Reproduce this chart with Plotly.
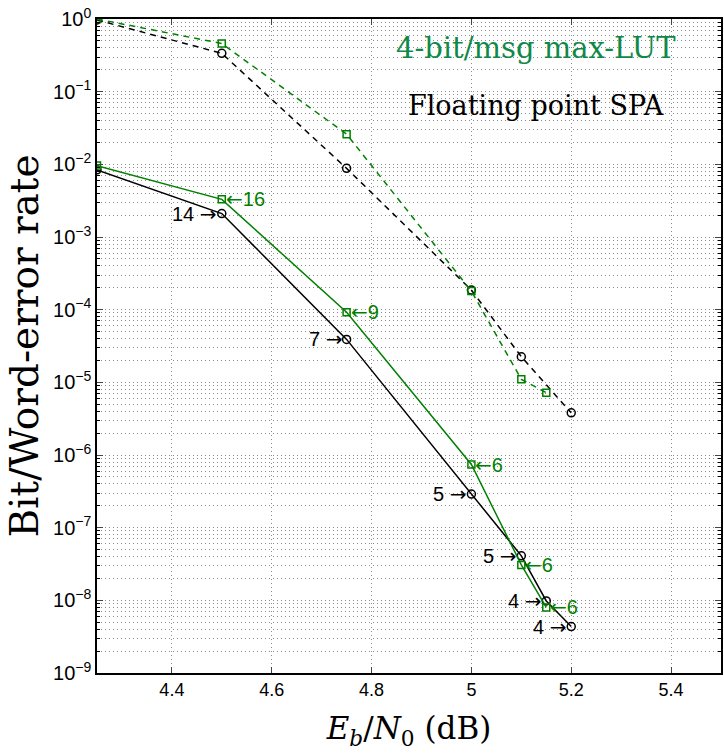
import math
import plotly.graph_objects as go

# Eb/N0 (dB)
snr_float = [4.25, 4.5, 4.75, 5.0, 5.1, 5.15, 5.2]
ber_float = [8.4e-3, 2.1e-3, 3.9e-5, 2.9e-7, 4.1e-8, 9.8e-9, 4.35e-9]
iter_float = ["", "14", "7", "5", "5", "4", "4"]

snr_lut = [4.25, 4.5, 4.75, 5.0, 5.1, 5.15]
ber_lut = [9.6e-3, 3.3e-3, 9.2e-5, 7.4e-7, 3.07e-8, 8.0e-9]
iter_lut = ["", "16", "9", "6", "6", "6"]

snr_wer_float = [4.25, 4.5, 4.75, 5.0, 5.1, 5.2]
wer_float = [0.97, 0.337, 8.8e-3, 1.86e-4, 2.25e-5, 3.8e-6]

snr_wer_lut = [4.25, 4.5, 4.75, 5.0, 5.1, 5.15]
wer_lut = [1.0, 0.46, 0.026, 1.8e-4, 1.1e-5, 7.2e-6]

ytick_vals = [10.0 ** (-k) for k in range(0, 10)]
ytick_text = ["10<sup>%s</sup>" % ("0" if k == 0 else "\u2212%d" % k) for k in range(0, 10)]
xtick_vals = [4.4, 4.6, 4.8, 5.0, 5.2, 5.4]
xtick_text = ["4.4", "4.6", "4.8", "5", "5.2", "5.4"]

GREEN = "rgb(0,128,0)"
BLACK = "black"

fig = go.Figure()
fig.add_trace(go.Scatter(x=snr_wer_float, y=wer_float, mode="lines+markers",
                         line=dict(color=BLACK, width=1.5, dash="6px,5px"),
                         marker=dict(symbol="circle-open", size=8, color=BLACK, line=dict(width=1.5))))
fig.add_trace(go.Scatter(x=snr_wer_lut, y=wer_lut, mode="lines+markers",
                         line=dict(color=GREEN, width=1.5, dash="6px,5px"),
                         marker=dict(symbol="square-open", size=7, color=GREEN, line=dict(width=1.5))))
fig.add_trace(go.Scatter(x=snr_float, y=ber_float, mode="lines+markers",
                         line=dict(color=BLACK, width=1.5),
                         marker=dict(symbol="circle-open", size=8, color=BLACK, line=dict(width=1.5))))
fig.add_trace(go.Scatter(x=snr_lut, y=ber_lut, mode="lines+markers",
                         line=dict(color=GREEN, width=1.5),
                         marker=dict(symbol="square-open", size=7, color=GREEN, line=dict(width=1.5))))

ARROW_R = "<span style='font-family:DejaVu Sans'>\u2192</span>"
ARROW_L = "<span style='font-family:DejaVu Sans'>\u2190</span>"
ann_font = dict(family="Liberation Sans, Arial, sans-serif", size=20)
for x, y, t in zip(snr_float, ber_float, iter_float):
    if t:
        fig.add_annotation(x=x, y=math.log10(y), text=t + " " + ARROW_R, showarrow=False,
                           xanchor="right", yanchor="middle", xshift=-3,
                           font=dict(color=BLACK, **ann_font))
for x, y, t in zip(snr_lut, ber_lut, iter_lut):
    if t:
        fig.add_annotation(x=x, y=math.log10(y), text=ARROW_L + t, showarrow=False,
                           xanchor="left", yanchor="middle", xshift=2,
                           font=dict(color=GREEN, **ann_font))

fig.add_annotation(x=0.931, y=0.955, xref="paper", yref="paper", text="4-bit/msg max-LUT",
                   showarrow=False, xanchor="right", yanchor="middle",
                   font=dict(family="DejaVu Serif, serif", size=29, color="rgb(16,137,72)"))
fig.add_annotation(x=0.912, y=0.868, xref="paper", yref="paper", text="Floating point SPA",
                   showarrow=False, xanchor="right", yanchor="middle",
                   font=dict(family="DejaVu Serif, serif", size=27, color="black"))

grid_col = "rgb(140,140,140)"
fig.update_layout(
    width=724, height=756,
    margin=dict(l=97, r=1, t=19, b=83),
    paper_bgcolor="white", plot_bgcolor="white",
    showlegend=False,
    xaxis=dict(range=[4.25, 5.5], tickvals=xtick_vals, ticktext=xtick_text,
               ticks="inside", ticklen=6, mirror="allticks", showline=True,
               linecolor="black", linewidth=1.5, showgrid=True, gridcolor=grid_col,
               griddash="1px,3px", gridwidth=1, zeroline=False,
               tickfont=dict(family="Liberation Sans, Arial, sans-serif", size=18, color="black"),
               title=dict(text="<i>E</i><sub><i>b</i></sub>/<i>N</i><sub>0</sub> (dB)",
                          font=dict(family="DejaVu Serif, serif", size=31, color="black"),
                          standoff=18)),
    yaxis=dict(type="log", range=[-9, 0], tickvals=ytick_vals, ticktext=ytick_text,
               ticks="inside", ticklen=6, mirror="allticks", showline=True,
               linecolor="black", linewidth=1.5, showgrid=True, gridcolor=grid_col,
               griddash="1px,3px", gridwidth=1, zeroline=False,
               minor=dict(dtick="D1", showgrid=True, gridcolor=grid_col, griddash="1px,3px",
                          ticks="inside", ticklen=3, tickcolor="black"),
               tickfont=dict(family="Liberation Sans, Arial, sans-serif", size=20, color="black"),
               title=dict(text="Bit/Word-error rate",
                          font=dict(family="DejaVu Serif, serif", size=39, color="black"),
                          standoff=2)),
)

fig.write_html("out.html")
